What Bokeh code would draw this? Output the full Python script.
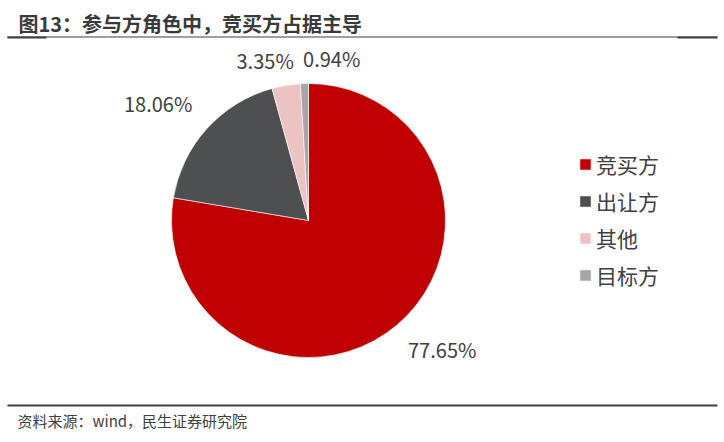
import math
from bokeh.plotting import figure
from bokeh.models import Range1d, Label, BoxAnnotation, Legend, LegendItem
from bokeh.embed import file_html
from bokeh.resources import INLINE

# ---- data ----
categories = ["竞买方", "出让方", "其他", "目标方"]
shares = [77.65, 18.06, 3.35, 0.94]
colors = ["#C00000", "#4D4F51", "#EBC3C3", "#A6A6A6"]
title_text = "图13：参与方角色中，竞买方占据主导"
source_text = "资料来源：wind，民生证券研究院"

W, H = 724, 442
CX, CY, R = 308, 222, 137
CJK = "Noto Sans CJK SC"
TXT = "#404040"

p = figure(width=W, height=H, output_backend="svg", toolbar_location=None,
           x_range=Range1d(0, W), y_range=Range1d(0, H), min_border=0)
p.axis.visible = False
p.grid.visible = False
p.outline_line_color = None
p.background_fill_color = "white"
p.border_fill_color = "white"

total = sum(shares)
starts, ends, mids = [], [], []
cum = 0.0
for v in shares:
    a0 = math.pi / 2 - cum / total * 2 * math.pi
    cum += v
    a1 = math.pi / 2 - cum / total * 2 * math.pi
    starts.append(a0)
    ends.append(a1)
    mids.append((a0 + a1) / 2)

renderers = []
for i in range(len(categories)):
    r = p.wedge(x=CX, y=CY, radius=R, radius_units="screen",
                start_angle=starts[i], end_angle=ends[i], direction="clock",
                fill_color=colors[i], line_color="white", line_width=0.6)
    renderers.append(r)

# percentage labels, placed outside each slice at its mid angle
pad = 14
nudges = [(2, 1), (-4, 1), (10, -3), (-1, -3)]
for i, v in enumerate(shares):
    m = mids[i]
    px = CX + (R + pad) * math.cos(m) + nudges[i][0]
    py = CY + (R + pad) * math.sin(m) + nudges[i][1]
    align = "left" if math.cos(m) > -0.1 else "right"
    base = "top" if math.sin(m) < 0 else "bottom"
    p.add_layout(Label(x=px, y=py, text=f"{v:.2f}%", text_align=align,
                       text_baseline=base, text_font=CJK,
                       text_font_size="20px", text_color=TXT))

# legend
items = [LegendItem(label=categories[i], renderers=[renderers[i]]) for i in range(len(categories))]
legend = Legend(items=items, location=(578, 152), orientation="vertical",
                glyph_width=14, glyph_height=14, label_standoff=4,
                label_text_font=CJK, label_text_font_size="21px",
                label_text_color=TXT, label_height=20, spacing=7,
                padding=0, margin=0, border_line_alpha=0,
                background_fill_alpha=0)
p.add_layout(legend, "center")

# title, source, rules
p.add_layout(Label(x=18, y=419, x_units="screen", y_units="screen",
                   text=title_text, text_font=CJK, text_font_style="bold",
                   text_font_size="20px", text_color="#3A3A3A",
                   text_baseline="middle"))
p.add_layout(Label(x=17, y=22, x_units="screen", y_units="screen",
                   text=source_text, text_font=CJK, text_font_size="15px",
                   text_color=TXT, text_baseline="middle"))

def rule(l, r, b, t):
    p.add_layout(BoxAnnotation(left=l, right=r, bottom=b, top=t,
                               left_units="screen", right_units="screen",
                               bottom_units="screen", top_units="screen",
                               fill_color="#404040", fill_alpha=1,
                               line_alpha=0))

rule(7, 717, 405, 406)
rule(7, 46, 404, 406)
rule(677, 717, 404, 406)
rule(7, 717, 36, 38)

open("out.html", "w").write(file_html(p, INLINE))
